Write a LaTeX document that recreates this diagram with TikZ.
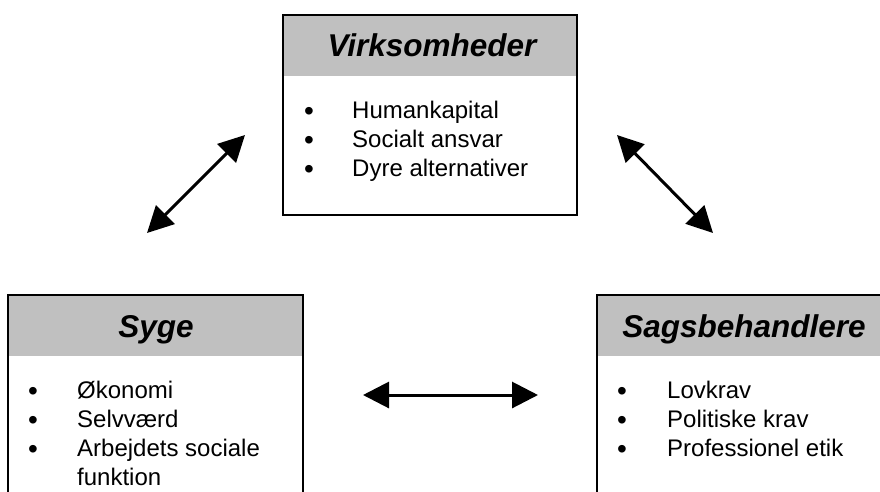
\documentclass[tikz,border=0pt]{standalone}
\usepackage{fontspec}
\setmainfont{Liberation Sans}
\usetikzlibrary{arrows.meta}
\definecolor{hdr}{RGB}{192,192,192}
\tikzset{
  boxline/.style={draw=black, line width=1.6pt},
  hdrfill/.style={fill=hdr},
  title/.style={anchor=base, inner sep=0pt, font=\fontsize{31.5}{36}\selectfont\bfseries\itshape},
  bul/.style={anchor=base, inner sep=0pt, font=\fontsize{28}{29}\selectfont},
  itemtxt/.style={anchor=base west, inner sep=0pt, font=\fontsize{24}{29}\selectfont},
  dblarrow/.style={line width=3pt, {Triangle[length=26pt,width=26pt]}-{Triangle[length=26pt,width=26pt]}}
}
\begin{document}
\begin{tikzpicture}[x=1pt,y=-1pt]
\useasboundingbox (0,0) rectangle (880,491);
\clip (0,0) rectangle (880,491);
% Virksomheder box
\fill[hdrfill] (283,15) rectangle (577,76);
\draw[boxline] (283,15) rectangle (577,215);
\node[title] (virkT) at (432,56) {Virksomheder};
\node[bul] (vb1) at (309,120) {•};
\node[bul] (vb2) at (309,149) {•};
\node[bul] (vb3) at (309,178) {•};
\node[itemtxt] (vt1) at (352,118) {Humankapital};
\node[itemtxt] (vt2) at (352,147) {Socialt ansvar};
\node[itemtxt] (vt3) at (352,176) {Dyre alternativer};
% Syge box
\fill[hdrfill] (8,295) rectangle (303,356);
\draw[boxline] (8,540) -- (8,295) -- (303,295) -- (303,540);
\node[title] (sygeT) at (156,337) {Syge};
\node[bul] (sb1) at (33,400) {•};
\node[bul] (sb2) at (33,429) {•};
\node[bul] (sb3) at (33,458) {•};
\node[itemtxt] (st1) at (77,398) {Økonomi};
\node[itemtxt] (st2) at (77,427) {Selvværd};
\node[itemtxt] (st3) at (77,456) {Arbejdets sociale};
\node[itemtxt] (st4) at (77,485) {funktion};
% Sagsbehandlere box
\fill[hdrfill] (597,295) rectangle (900,356);
\draw[boxline] (597,540) -- (597,295) -- (900,295);
\node[title] (sagT) at (744,337) {Sagsbehandlere};
\node[bul] (ab1) at (622,400) {•};
\node[bul] (ab2) at (622,429) {•};
\node[bul] (ab3) at (622,458) {•};
\node[itemtxt] (at1) at (667,398) {Lovkrav};
\node[itemtxt] (at2) at (667,427) {Politiske krav};
\node[itemtxt] (at3) at (667,456) {Professionel etik};
% arrows
\coordinate (a1s) at (147,233);
\coordinate (a1e) at (245,135);
\coordinate (a2s) at (617,135);
\coordinate (a2e) at (713,233);
\coordinate (a3s) at (363,395);
\coordinate (a3e) at (538,395);
\draw[dblarrow] (a1s) -- (a1e);
\draw[dblarrow] (a2s) -- (a2e);
\draw[dblarrow] (a3s) -- (a3e);
\end{tikzpicture}
\end{document}
